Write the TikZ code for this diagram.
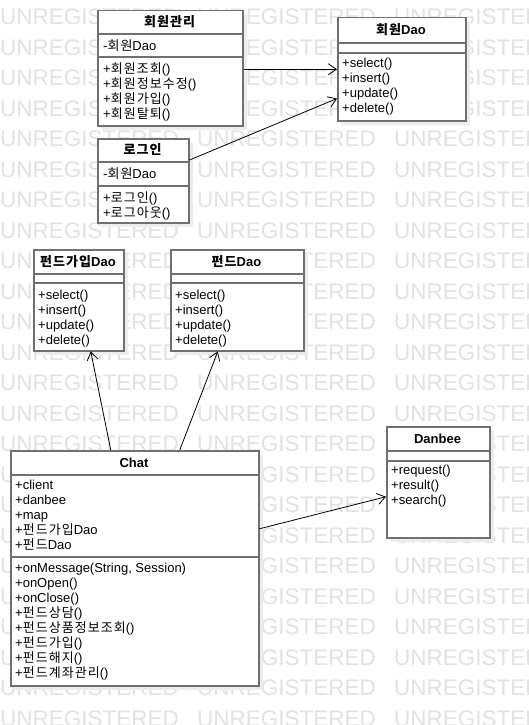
\documentclass[tikz,border=0pt]{standalone}
\usepackage{fontspec}
\setmainfont{Liberation Sans}
\newfontfamily\krfont[LetterSpace=8]{Noto Sans CJK KR}
\usetikzlibrary{arrows.meta,shadows}
\definecolor{boxgray}{RGB}{112,112,112}
\definecolor{wmgray}{RGB}{226,226,226}
\definecolor{shade}{RGB}{236,236,236}
\newcommand\ko[1]{{\krfont #1}}
\tikzstyle{cls}=[draw=boxgray, line width=1.5pt, fill=white, rectangle, inner sep=0pt, anchor=north west, general shadow={fill=shade, shadow xshift=4pt, shadow yshift=-4pt}]
\tikzstyle{ttl}=[font=\fontsize{13}{15}\selectfont\bfseries, inner sep=0pt, anchor=base]
\tikzstyle{row}=[font=\fontsize{13}{15}\selectfont, inner sep=0pt, anchor=base west]
\tikzstyle{sep}=[draw=boxgray, line width=1.5pt]
\tikzstyle{dep}=[black, line width=0.8pt, -{Straight Barb[length=8pt,width=11pt]}]
\tikzstyle{wm}=[font=\fontsize{22.5}{24}\selectfont, text=wmgray, inner sep=0pt, anchor=west]

\begin{document}
\begin{tikzpicture}[x=1pt,y=-1pt]
\useasboundingbox[fill=white] (0,0) rectangle (529,725);
% watermark
\foreach \r in {0,...,23}
  \foreach \c in {0,1,2}
    \node[wm] (wm-\r-\c) at (197*\c,17+30.5*\r) {UNREGISTERED};

% member classes
\node[cls, minimum width=145pt, minimum height=115pt] (hmgr) at (97,10) {};
\node[ttl] (hmgr-t) at (169.5,26.5) {\ko{회원관리}};
\draw[sep] (97,34) -- (242,34);
\draw[sep] (97,57) -- (242,57);
\node[row] (hmgr-a0) at (103,50.5) {-\ko{회원}Dao};
\foreach \t [count=\i from 0] in {+\ko{회원조회}(), +\ko{회원정보수정}(), +\ko{회원가입}(), +\ko{회원탈퇴}()}
  \node[row] (hmgr-m\i) at (103,73.5+15*\i) {\t};

\node[cls, minimum width=128pt, minimum height=103pt] (hdao) at (337,17) {};
\node[ttl] (hdao-t) at (401,34.5) {\ko{회원}Dao};
\draw[sep] (337,43) -- (465,43);
\draw[sep] (337,53) -- (465,53);
\foreach \t [count=\i from 0] in {+select(), +insert(), +update(), +delete()}
  \node[row] (hdao-m\i) at (342,67.5+15*\i) {\t};

\node[cls, minimum width=91pt, minimum height=84pt] (login) at (97,138) {};
\node[ttl] (login-t) at (142.5,154.5) {\ko{로그인}};
\draw[sep] (97,162) -- (188,162);
\draw[sep] (97,186) -- (188,186);
\node[row] (login-a0) at (103,178.5) {-\ko{회원}Dao};
\foreach \t [count=\i from 0] in {+\ko{로그인}(), +\ko{로그아웃}()}
  \node[row] (login-m\i) at (103,202+15*\i) {\t};

% fund classes
\node[cls, minimum width=90pt, minimum height=101pt] (fjdao) at (33,249) {};
\node[ttl] (fjdao-t) at (78,266) {\ko{펀드가입}Dao};
\draw[sep] (33,274) -- (123,274);
\draw[sep] (33,283) -- (123,283);
\foreach \t [count=\i from 0] in {+select(), +insert(), +update(), +delete()}
  \node[row] (fjdao-m\i) at (38,299.5+15*\i) {\t};

\node[cls, minimum width=133pt, minimum height=101pt] (fdao) at (170,249) {};
\node[ttl] (fdao-t) at (236.5,266) {\ko{펀드}Dao};
\draw[sep] (170,274) -- (303,274);
\draw[sep] (170,283) -- (303,283);
\foreach \t [count=\i from 0] in {+select(), +insert(), +update(), +delete()}
  \node[row] (fdao-m\i) at (175,299.5+15*\i) {\t};

% chat
\node[cls, minimum width=248pt, minimum height=235pt] (chat) at (10,450) {};
\node[ttl] (chat-t) at (134,467) {Chat};
\draw[sep] (10,475) -- (258,475);
\draw[sep] (10,557) -- (258,557);
\foreach \t [count=\i from 0] in {+client, +danbee, +map, +\ko{펀드가입}Dao, +\ko{펀드}Dao}
  \node[row] (chat-a\i) at (15,489.5+15*\i) {\t};
\foreach \t [count=\i from 0] in {{+onMessage(String, Session)}, +onOpen(), +onClose(), +\ko{펀드상담}(), +\ko{펀드상품정보조회}(), +\ko{펀드가입}(), +\ko{펀드해지}(), +\ko{펀드계좌관리}()}
  \node[row] (chat-m\i) at (15,572.5+15*\i) {\t};

\node[cls, minimum width=103pt, minimum height=111pt] (danbee) at (386,426) {};
\node[ttl] (danbee-t) at (437.5,443) {Danbee};
\draw[sep] (386,451) -- (489,451);
\draw[sep] (386,461) -- (489,461);
\foreach \t [count=\i from 0] in {+request(), +result(), +search()}
  \node[row] (danbee-m\i) at (391,474.5+15*\i) {\t};

% dependencies
\draw[dep] (hmgr.east |- hdao.west) -- (hdao.west);
\draw[dep] ([yshift=-22pt]login.north east) -- ([yshift=23pt]hdao.south west);
\draw[dep] ([xshift=-24pt]chat.north) -- ([xshift=12pt]fjdao.south);
\draw[dep] ([xshift=45pt]chat.north) -- ([xshift=-19.5pt]fdao.south);
\draw[dep] ([yshift=39.5pt]chat.east) -- ([yshift=-14.5pt]danbee.west);
\end{tikzpicture}
\end{document}
